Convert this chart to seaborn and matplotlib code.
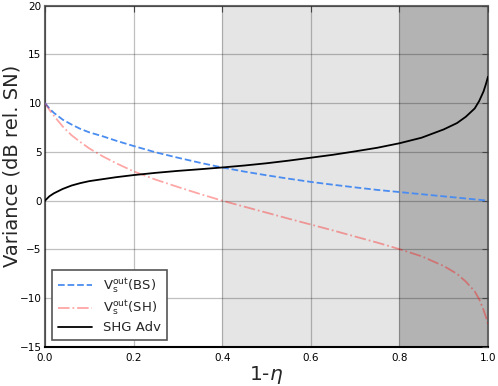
"""Variance vs 1-eta: beam splitter vs SHG output, with shaded loss regions"""
import pandas as pd
import numpy as np
import matplotlib
matplotlib.use('Agg')
import matplotlib.pyplot as plt
import seaborn as sns

sns.set_style("whitegrid")
plt.rcParams['font.family'] = ['DejaVu Sans']
plt.rcParams['mathtext.fontset'] = 'dejavusans'

# values
loss = [0, 0.01, 0.02, 0.04, 0.06, 0.08, 0.1, 0.13, 0.16, 0.2, 0.25, 0.3, 0.35,
        0.4, 0.45, 0.5, 0.55, 0.6, 0.65, 0.7, 0.75, 0.8, 0.85, 0.9, 0.93, 0.95,
        0.97, 0.98, 0.99, 0.995, 1.0]
var_bs = [10, 9.45, 9.0, 8.3, 7.8, 7.35, 7.0, 6.6, 6.15, 5.6, 4.95, 4.4, 3.88,
          3.4, 2.98, 2.6, 2.25, 1.92, 1.63, 1.36, 1.1, 0.88, 0.66, 0.44, 0.31, 0.22,
          0.13, 0.09, 0.04, 0.02, 0.0]
var_sh = [10, 9.3, 8.7, 7.6, 6.7, 6.0, 5.35, 4.55, 3.85, 3.0, 2.15, 1.4, 0.68,
          0.0, -0.62, -1.23, -1.85, -2.45, -3.05, -3.68, -4.3, -4.97, -5.7, -6.7, -7.5, -8.3,
          -9.3, -10.1, -11.2, -11.9, -12.6]
shg_adv = [0, 0.45, 0.75, 1.2, 1.55, 1.8, 2.0, 2.2, 2.4, 2.62, 2.85, 3.05, 3.22,
           3.4, 3.6, 3.83, 4.1, 4.4, 4.7, 5.05, 5.42, 5.88, 6.45, 7.3, 7.95, 8.6,
           9.45, 10.2, 11.2, 11.9, 12.7]

df = pd.DataFrame({'loss': loss, 'bs': var_bs, 'sh': var_sh, 'adv': shg_adv})

fig = plt.figure(figsize=(4.98, 3.86), dpi=100)
ax = fig.add_axes([45 / 498, 1 - 347 / 386, 443 / 498, 341.5 / 386])
ax.set_facecolor('white')

# shaded regions
ax.axvspan(0.4, 0.8, color='#e5e5e5', zorder=0, lw=0)
ax.axvspan(0.8, 1.0, color='#b3b3b3', zorder=0, lw=0)

sns.lineplot(data=df, x='loss', y='bs', ax=ax, color='#4a8cf0', linestyle='--',
             linewidth=1.3, label=r'V$_\mathrm{s}^\mathrm{out}$(BS)', zorder=3)
sns.lineplot(data=df, x='loss', y='sh', ax=ax, color='red', alpha=0.35, linestyle='-.',
             linewidth=1.3, label=r'V$_\mathrm{s}^\mathrm{out}$(SH)', zorder=3)
sns.lineplot(data=df, x='loss', y='adv', ax=ax, color='black', linestyle='-',
             linewidth=1.3, label='SHG Adv', zorder=3)

ax.set_xlim(0, 1)
ax.set_ylim(-15, 20)
ax.set_xticks([0.0, 0.2, 0.4, 0.6, 0.8, 1.0])
ax.set_xticklabels(['0.0', '0.2', '0.4', '0.6', '0.8', '1.0'])
ax.set_yticks([-15, -10, -5, 0, 5, 10, 15, 20])
ax.set_yticklabels(['\u221215', '\u221210', '\u22125', '0', '5', '10', '15', '20'])

ax.set_axisbelow(False)
ax.grid(True, color='black', alpha=0.25, linewidth=0.9, linestyle='-')
ax.tick_params(axis='both', direction='in', length=4, width=0.8, labelsize=7.5,
               top=True, right=True, colors='#444444', labelcolor='black')
ax.tick_params(axis='y', pad=2.5)
ax.tick_params(axis='x', pad=4)

for side in ['left', 'top', 'right']:
    ax.spines[side].set_color('#666666')
    ax.spines[side].set_linewidth(1.5)
ax.spines['bottom'].set_color('black')
ax.spines['bottom'].set_linewidth(1.5)

ax.set_xlabel(r'1-$\eta$', fontsize=14.5, labelpad=1)
ax.set_ylabel('Variance (dB rel. SN)', fontsize=14)
ax.yaxis.set_label_coords(-0.054, 0.53)

leg = ax.legend(loc='lower left', fontsize=9.5, frameon=True, fancybox=False,
                bbox_to_anchor=(0.016, 0.02), borderaxespad=0, borderpad=0.45,
                handlelength=2.6, labelspacing=0.25)
leg.get_frame().set_edgecolor('#555555')
leg.get_frame().set_linewidth(1.2)
leg.get_frame().set_facecolor('white')
leg.get_frame().set_alpha(1)

plt.savefig('out.png', dpi=100)
plt.close()
